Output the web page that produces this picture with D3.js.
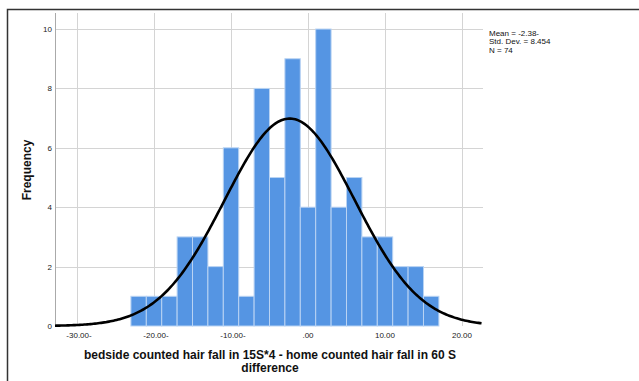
<!DOCTYPE html>
<html>
<head>
<meta charset="utf-8">
<script src="https://cdn.jsdelivr.net/npm/d3@7"></script>
<style>
  body { margin: 0; background: #fff; }
  svg { display: block; font-family: "Liberation Sans", Arial, sans-serif; }
</style>
</head>
<body>
<div id="chart"></div>
<script>
// histogram bins: lower edge of each 2-unit bin, and frequencies
const binStarts = [-23, -21, -19, -17, -15, -13, -11, -9, -7, -5, -3, -1, 1, 3, 5, 7, 9, 11, 13, 15];
const counts    = [1, 1, 1, 3, 3, 2, 6, 1, 8, 5, 9, 4, 10, 4, 5, 3, 3, 2, 2, 1];
const binWidth = 2;
const xTicks = [-30, -20, -10, 0, 10, 20];
const xTickLabels = ["-30.00-", "-20.00-", "-10.00-", ".00", "10.00", "20.00"];
const yTicks = [0, 2, 4, 6, 8, 10];
const stats = { mean: -2.38, sd: 8.454, n: 74 };
const legendLines = ["Mean = -2.38-", "Std. Dev. = 8.454", "N = 74"];

const width = 639, height = 381;
const margin = {top: 13, right: 156, bottom: 55, left: 55};

const svg = d3.select("#chart").append("svg")
    .attr("width", width)
    .attr("height", height);

// outer frame (left + top)
svg.append("path")
    .attr("d", `M7.5,${height} V9.5 H${width}`)
    .attr("fill", "none")
    .attr("stroke", "#333")
    .attr("stroke-width", 1.5);

const x = d3.scaleLinear()
    .domain([-32.86, 22.73])
    .range([margin.left, width - margin.right]);

const y = d3.scaleLinear()
    .domain([0, 10.54])
    .range([height - margin.bottom, margin.top]);

// grid lines
svg.append("g")
  .selectAll("line")
  .data(yTicks.filter(d => d > 0))
  .join("line")
    .attr("x1", x.range()[0]).attr("x2", x.range()[1])
    .attr("y1", d => Math.round(y(d)) + 0.5).attr("y2", d => Math.round(y(d)) + 0.5)
    .attr("stroke", "#d4d4d4");

svg.append("g")
  .selectAll("line")
  .data(xTicks)
  .join("line")
    .attr("x1", d => Math.round(x(d)) + 0.5).attr("x2", d => Math.round(x(d)) + 0.5)
    .attr("y1", y.range()[1]).attr("y2", y.range()[0])
    .attr("stroke", "#d4d4d4");

// bars
svg.append("g")
  .selectAll("rect")
  .data(binStarts.map((b, i) => ({x0: b, x1: b + binWidth, n: counts[i]})))
  .join("rect")
    .attr("x", d => x(d.x0))
    .attr("width", d => x(d.x1) - x(d.x0))
    .attr("y", d => y(d.n))
    .attr("height", d => y(0) - y(d.n))
    .attr("fill", "#5595e3")
    .attr("stroke", "#b9d3f3")
    .attr("stroke-width", 1);

// left axis line
svg.append("line")
    .attr("x1", margin.left + 0.5).attr("x2", margin.left + 0.5)
    .attr("y1", margin.top).attr("y2", y(0))
    .attr("stroke", "#aaa");

// normal curve
const scale = stats.n * binWidth / (stats.sd * Math.sqrt(2 * Math.PI));
const xs = d3.range(x.domain()[0], x.domain()[1] + 0.01, 0.2);
svg.append("path")
    .datum(xs)
    .attr("fill", "none")
    .attr("stroke", "#000")
    .attr("stroke-width", 2.6)
    .attr("d", d3.line()
        .x(d => x(d))
        .y(d => y(scale * Math.exp(-0.5 * Math.pow((d - stats.mean) / stats.sd, 2)))));

// y tick labels
svg.append("g")
  .selectAll("text")
  .data(yTicks)
  .join("text")
    .attr("x", 52)
    .attr("y", d => y(d) + 3)
    .attr("text-anchor", "end")
    .attr("font-size", 8)
    .attr("fill", "#222")
    .text(d => d);

// x tick labels
svg.append("g")
  .selectAll("text")
  .data(xTicks)
  .join("text")
    .attr("x", (d, i) => x(d) + (xTickLabels[i].endsWith("-") ? 2 : 0))
    .attr("y", 338)
    .attr("text-anchor", "middle")
    .attr("font-size", 8)
    .attr("fill", "#222")
    .text((d, i) => xTickLabels[i]);

// axis titles
svg.append("text")
    .attr("x", 270).attr("y", 359)
    .attr("text-anchor", "middle")
    .attr("font-size", 12)
    .attr("font-weight", "bold")
    .attr("fill", "#111")
    .text("bedside counted hair fall in 15S*4 - home counted hair fall in 60 S");

svg.append("text")
    .attr("x", 270).attr("y", 372)
    .attr("text-anchor", "middle")
    .attr("font-size", 12)
    .attr("font-weight", "bold")
    .attr("fill", "#111")
    .text("difference");

svg.append("text")
    .attr("transform", "translate(31,170) rotate(-90)")
    .attr("text-anchor", "middle")
    .attr("font-size", 12)
    .attr("font-weight", "bold")
    .attr("fill", "#111")
    .text("Frequency");

// stats legend
svg.append("g")
  .selectAll("text")
  .data(legendLines)
  .join("text")
    .attr("x", 489)
    .attr("y", (d, i) => 36 + i * 8.3)
    .attr("font-size", 8)
    .attr("fill", "#111")
    .text(d => d);
</script>
</body>
</html>
